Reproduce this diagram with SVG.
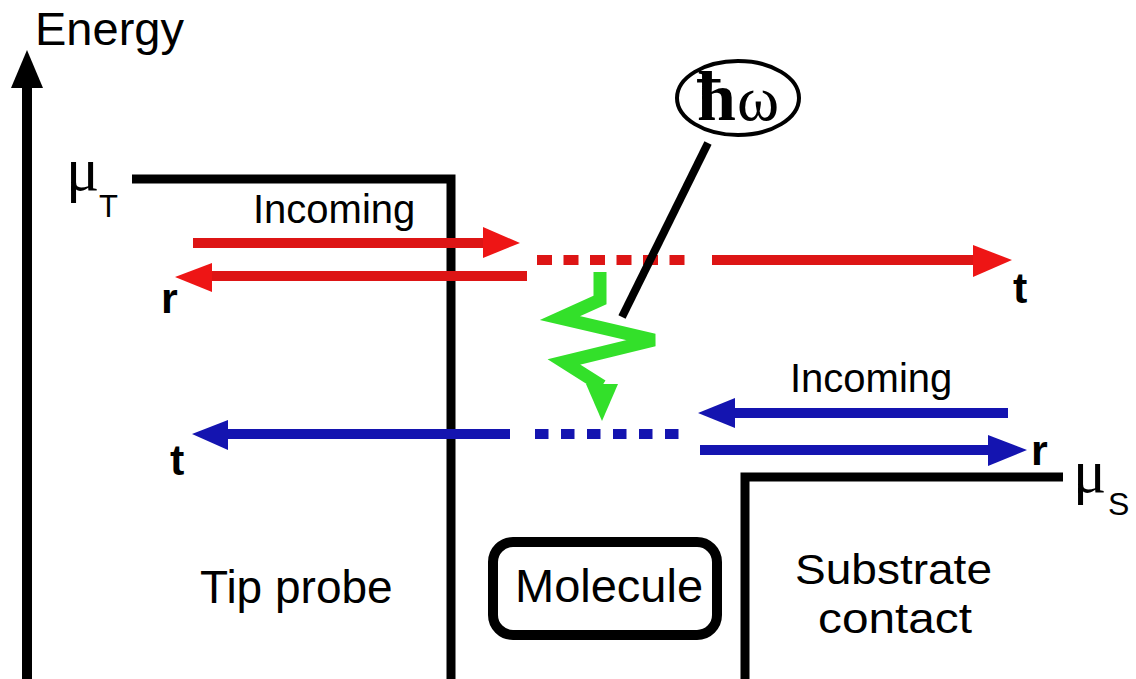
<svg xmlns="http://www.w3.org/2000/svg" width="1136" height="679" viewBox="0 0 1136 679">
<style>
.bk{stroke:#000;fill:none;stroke-width:9}
.red{stroke:#dd1515;stroke-width:10;fill:none}
.redh{fill:#ee1515}
.blue{stroke:#1414b0;stroke-width:10;fill:none}
.blueh{fill:#1414b0}
.lbl{font-family:"Liberation Sans",Arial,sans-serif;fill:#000}
.rt{font-family:"Liberation Sans",Arial,sans-serif;font-weight:bold;font-size:43px;fill:#000}
.mu{font-family:"Liberation Serif","Times New Roman",serif;font-size:62px;fill:#000}
</style>
<rect width="1136" height="679" fill="#fff"/>
<g id="axis">
<line x1="27" y1="679" x2="27" y2="85" stroke="#000" stroke-width="10"/>
<polygon points="27,50 11,88 43,88" fill="#000"/>
<text class="lbl" x="35" y="45" font-size="47">Energy</text>
</g>
<g id="tip">
<polyline class="bk" points="132,179 451,179 451,679"/>
<text class="mu" x="66" y="190">μ</text>
<text class="lbl" x="99" y="217" font-size="31">T</text>
<text class="lbl" x="200" y="603" font-size="46">Tip probe</text>
</g>
<g id="substrate">
<polyline class="bk" points="1063,477 745,477 745,679"/>
<text class="mu" x="1073" y="492">μ</text>
<text class="lbl" x="1108" y="515" font-size="32">S</text>
<text class="lbl" x="795" y="584" font-size="43" textLength="197" lengthAdjust="spacingAndGlyphs">Substrate</text>
<text class="lbl" x="818" y="633" font-size="43" textLength="154" lengthAdjust="spacingAndGlyphs">contact</text>
</g>
<g id="molecule">
<rect x="493" y="542" width="224" height="93" rx="20" ry="20" fill="none" stroke="#000" stroke-width="10"/>
<text class="lbl" x="515" y="602" font-size="47">Molecule</text>
</g>
<g id="hw">
<ellipse cx="738" cy="98" rx="61" ry="37" fill="#fff" stroke="#000" stroke-width="4"/>
<text x="697" y="120" font-family="Liberation Serif,'Times New Roman',serif" font-weight="bold" font-size="70" fill="#000">ħ</text>
<text x="737" y="120" font-family="Liberation Serif,'Times New Roman',serif" font-size="64" fill="#000">ω</text>
</g>
<g id="connectors">
<line class="red" x1="193" y1="243" x2="485" y2="243"/>
<polygon class="redh" points="520,243 483,227 483,258"/>
<text class="lbl" x="253" y="223" font-size="40">Incoming</text>
<line class="red" x1="527" y1="276" x2="210" y2="276"/>
<polygon class="redh" points="175,277 212,263 212,292"/>
<text class="rt" x="161" y="313">r</text>
<line class="red" x1="537" y1="260" x2="689" y2="260" stroke-dasharray="15,11.5"/>
<line class="red" x1="712" y1="260" x2="976" y2="260"/>
<polygon class="redh" points="1012,260 973,245 973,277"/>
<text class="rt" x="1013" y="303">t</text>
<line class="blue" x1="1008" y1="413" x2="733" y2="413"/>
<polygon class="blueh" points="698,413 735,398 735,428"/>
<text class="lbl" x="790" y="392" font-size="40">Incoming</text>
<line class="blue" x1="700" y1="450" x2="990" y2="450"/>
<polygon class="blueh" points="1027,450 988,435 988,466"/>
<text class="rt" x="1031" y="465">r</text>
<line class="blue" x1="535" y1="434" x2="681" y2="434" stroke-dasharray="13.5,12.5"/>
<line class="blue" x1="510" y1="434" x2="226" y2="434"/>
<polygon class="blueh" points="192,434 228,420 228,450"/>
<text class="rt" x="170" y="475">t</text>
<polyline points="600,272 600,300 560,318 654,340 564,362 602,386" fill="none" stroke="#33e02a" stroke-width="13" stroke-linejoin="miter"/>
<polygon points="586,384 618,384 602,421" fill="#33e02a"/>
<line x1="708" y1="143" x2="622" y2="317" stroke="#000" stroke-width="8"/>
</g>
</svg>
